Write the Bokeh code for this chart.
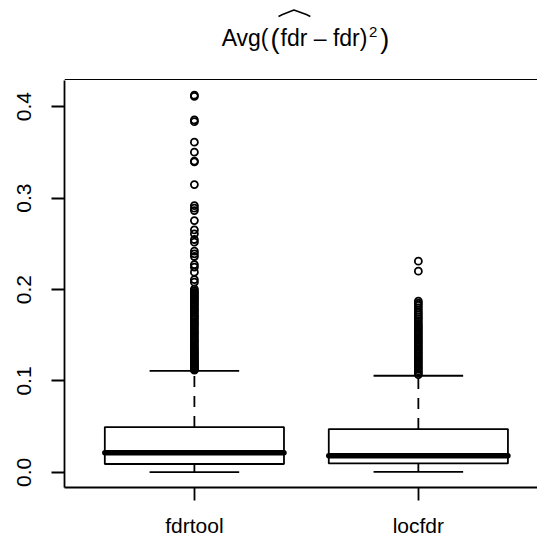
from bokeh.plotting import figure
from bokeh.layouts import column
from bokeh.models import Range1d, FixedTicker, NumeralTickFormatter
from bokeh.embed import file_html
from bokeh.resources import INLINE
from bokeh.core.properties import value

# ---- data ----
categories = ["fdrtool", "locfdr"]
positions = [1, 2]
lower_whisker = [0.0003, 0.0006]
q1 = [0.0092, 0.0098]
median = [0.0216, 0.0183]
q3 = [0.0496, 0.0474]
upper_whisker = [0.1111, 0.1057]

fdrtool_outliers = [
    0.4125, 0.4112, 0.3855, 0.3836, 0.3611, 0.3502, 0.3405, 0.3395, 0.3148,
    0.2918, 0.2890, 0.2863, 0.2754, 0.2652, 0.2609, 0.2547, 0.2518, 0.2420,
    0.2390, 0.2361, 0.2273, 0.2245, 0.2190, 0.2109, 0.2081,
    0.2005, 0.1985, 0.1970, 0.1955, 0.1940, 0.1925, 0.1910, 0.1895, 0.1880,
    0.1862, 0.1845, 0.1830, 0.1810, 0.1790, 0.1775, 0.1760, 0.1740, 0.1720,
    0.1705, 0.1690, 0.1670, 0.1650, 0.1635, 0.1620, 0.1600, 0.1580, 0.1560,
    0.1540, 0.1525, 0.1510, 0.1490, 0.1470, 0.1450, 0.1435, 0.1420, 0.1400,
    0.1380, 0.1360, 0.1345, 0.1330, 0.1315, 0.1300, 0.1285, 0.1270, 0.1255,
    0.1240, 0.1228, 0.1215, 0.1202, 0.1190, 0.1178, 0.1166, 0.1155, 0.1145,
    0.1135, 0.1125, 0.1118,
]
locfdr_outliers = [
    0.2310, 0.2201, 0.1873, 0.1850, 0.1828, 0.1800, 0.1775, 0.1750, 0.1725,
    0.1700, 0.1680, 0.1655, 0.1630, 0.1610, 0.1590, 0.1570, 0.1550, 0.1530,
    0.1510, 0.1490, 0.1470, 0.1450, 0.1430, 0.1410, 0.1390, 0.1370, 0.1350,
    0.1330, 0.1310, 0.1290, 0.1270, 0.1250, 0.1230, 0.1210, 0.1190, 0.1170,
    0.1150, 0.1130, 0.1110, 0.1090, 0.1070,
]
y_ticks = [0.0, 0.1, 0.2, 0.3, 0.4]
# title pieces: Avg( (fdr^ - fdr)^2 )
title_avg = "Avg("
title_open = "("
title_hat = "fdr"
title_mid = "\u00a0\u2013\u00a0fdr)"
title_sup = "2"
title_close = ")"

# ---- styling constants ----
FONT = "Liberation Sans"
LW = 1.8
HALF_BOX = 0.4
HALF_CAP = 0.2
W = 537
TITLE_H = 80
FRAME_LEFT = 64

# ---- title strip (its own small figure, pixel coordinates of the page) ----
t = figure(width=W, height=TITLE_H, x_range=Range1d(FRAME_LEFT, W), y_range=Range1d(0, TITLE_H),
           output_backend="svg", toolbar_location=None,
           min_border_left=FRAME_LEFT, min_border_right=0, min_border_top=0, min_border_bottom=0)
t.title = None
t.axis.visible = False
t.grid.visible = False
t.outline_line_color = None
t.background_fill_color = "white"
t.border_fill_color = "white"

TS = 23          # main title size
TB = 27          # enlarged paren size
TSUP = 15        # superscript size
anchor = 280     # left edge of the hatted "fdr"
base = TITLE_H - 37
fdr_w = 1.167 * TS
mid_w = 2.612 * TS


def ttext(x, y, s, size, align="left"):
    t.text(x=[x], y=[y], text=[s], text_align=align, text_baseline="alphabetic",
           text_font=value(FONT), text_font_size=f"{size}px", text_color="black")


ttext(anchor - 1, base - 1.5, title_open, TB, "right")
ttext(anchor - 1 - 0.333 * TB - 2, base, title_avg, TS, "right")
ttext(anchor, base, title_hat, TS)
ttext(anchor + fdr_w, base, title_mid, TS)
sup_x = anchor + fdr_w + mid_w + 1.5
ttext(sup_x, base + 5.3, title_sup, TSUP)
ttext(sup_x + 0.556 * TSUP + 3, base - 1.5, title_close, TB)
t.line(x=[anchor - 2, anchor + 2, anchor + fdr_w / 2, anchor + fdr_w - 1, anchor + fdr_w + 3],
       y=[TITLE_H - 16, TITLE_H - 14.0, TITLE_H - 9.5, TITLE_H - 14.0, TITLE_H - 16],
       line_color="black", line_width=1.5)
# top edge of the plot box
t.line(x=[FRAME_LEFT, W], y=[0.7, 0.7], line_color="black", line_width=LW)

# ---- main plot ----
p = figure(width=W, height=539 - TITLE_H,
           x_range=Range1d(0.42, 2.532), y_range=Range1d(-0.0165, 0.4286),
           output_backend="svg", toolbar_location=None,
           min_border_left=FRAME_LEFT, min_border_right=0, min_border_top=0, min_border_bottom=52)
p.title = None
p.grid.visible = False
p.outline_line_color = None
p.background_fill_color = "white"
p.border_fill_color = "white"

for ax in (p.xaxis[0], p.yaxis[0]):
    ax.axis_line_width = LW
    ax.axis_line_color = "black"
    ax.major_tick_line_width = LW
    ax.major_tick_line_color = "black"
    ax.major_tick_out = 13
    ax.major_tick_in = 0
    ax.minor_tick_line_color = None
    ax.major_label_text_font = FONT
    ax.major_label_text_font_size = "21px"
    ax.major_label_text_color = "black"

p.xaxis.ticker = FixedTicker(ticks=positions)
p.xaxis.major_label_overrides = {pos: name for pos, name in zip(positions, categories)}
p.xaxis.major_label_standoff = 13
p.yaxis.ticker = FixedTicker(ticks=y_ticks)
p.yaxis.formatter = NumeralTickFormatter(format="0.0")
p.yaxis.major_label_orientation = "parallel"
p.yaxis.major_label_standoff = 20

# whiskers (dashed)
p.segment(x0=positions, x1=positions, y0=q3, y1=upper_whisker,
          line_color="black", line_width=LW, line_dash="11 9")
p.segment(x0=positions, x1=positions, y0=q1, y1=lower_whisker,
          line_color="black", line_width=LW, line_dash="11 9")
# staples
p.segment(x0=[x - HALF_CAP for x in positions], x1=[x + HALF_CAP for x in positions],
          y0=upper_whisker, y1=upper_whisker, line_color="black", line_width=LW)
p.segment(x0=[x - HALF_CAP for x in positions], x1=[x + HALF_CAP for x in positions],
          y0=lower_whisker, y1=lower_whisker, line_color="black", line_width=LW)
# boxes
p.quad(left=[x - HALF_BOX for x in positions], right=[x + HALF_BOX for x in positions],
       bottom=q1, top=q3, fill_color="white", line_color="black", line_width=LW)
# medians
p.segment(x0=[x - HALF_BOX for x in positions], x1=[x + HALF_BOX for x in positions],
          y0=median, y1=median, line_color="black", line_width=5.5, line_cap="round")
# outliers
p.scatter(x=[positions[0]] * len(fdrtool_outliers), y=fdrtool_outliers, marker="circle",
          size=7, fill_color=None, line_color="black", line_width=1.8)
p.scatter(x=[positions[1]] * len(locfdr_outliers), y=locfdr_outliers, marker="circle",
          size=7, fill_color=None, line_color="black", line_width=1.8)

layout = column(t, p, spacing=0)
open("out.html", "w").write(file_html(layout, INLINE))
